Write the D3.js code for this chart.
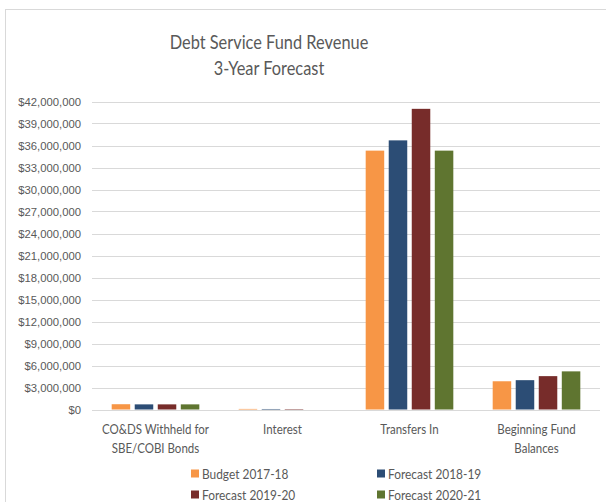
<!DOCTYPE html>
<html>
<head>
<meta charset="utf-8">
<script src="https://cdn.jsdelivr.net/npm/d3@7"></script>
<style>
  html, body { margin: 0; padding: 0; background: #fff; }
  svg { display: block; }
</style>
</head>
<body>
<svg id="chart" width="606" height="502"></svg>
<script>
// Revenue categories (two-line labels) and the four fiscal-year series
const categories = ["CO&DS Withheld for|SBE/COBI Bonds", "Interest", "Transfers In", "Beginning Fund|Balances"];
const seriesNames = ["Budget 2017-18", "Forecast 2018-19", "Forecast 2019-20", "Forecast 2020-21"];
const seriesColors = ["#F79646", "#2C4D75", "#772C2A", "#5F7530"];
const budget1718   = [720000, 80000, 35300000, 3850000];
const forecast1819 = [700000, 70000, 36700000, 4000000];
const forecast1920 = [700000, 60000, 41000000, 4550000];
const forecast2021 = [700000, 0, 35300000, 5200000];
const seriesValues = [budget1718, forecast1819, forecast1920, forecast2021];
const yTicks = d3.range(0, 42000001, 3000000);

const svg = d3.select("#chart");
const grey = "#595959";
const labelFont = "Lato, 'Noto Sans', sans-serif";

// chart frame
svg.append("rect").attr("x", 5.5).attr("y", 9.5).attr("width", 610).attr("height", 510)
  .attr("fill", "#fff").attr("stroke", "#d9d9d9").attr("stroke-width", 1);

// title, narrowed horizontally around its centre
const title = svg.append("text").attr("text-anchor", "middle")
  .attr("transform", "translate(269,0) scale(0.84,1)")
  .attr("font-family", labelFont).attr("font-size", 19.5).attr("fill", grey);
title.append("tspan").attr("x", 0).attr("y", 49.5).text("Debt Service Fund Revenue");
title.append("tspan").attr("x", 0).attr("y", 75.5).text("3-Year Forecast");

const x0 = d3.scaleBand().domain(categories).range([92, 600]).paddingInner(0.31).paddingOuter(0.155);
const x1 = d3.scaleBand().domain(seriesNames).range([0, x0.bandwidth()]).paddingInner(0.196).paddingOuter(0);
const y = d3.scaleLinear().domain([0, 42000000]).range([409.5, 101.5]);

// y axis with gridlines
const yAxis = d3.axisLeft(y).tickValues(yTicks)
  .tickFormat(d => "$" + d3.format(",")(d)).tickSize(0).tickPadding(11);
const gy = svg.append("g").attr("transform", "translate(92,0)").call(yAxis);
gy.select(".domain").remove();
gy.selectAll("text").attr("font-family", "'Liberation Sans', Arial, sans-serif")
  .attr("font-size", 11.3).attr("fill", grey);
svg.append("g").selectAll("line").data(yTicks).join("line")
  .attr("x1", 92).attr("x2", 600)
  .attr("y1", d => Math.round(y(d)) + 0.5).attr("y2", d => Math.round(y(d)) + 0.5)
  .attr("stroke", "#d9d9d9").attr("stroke-width", 1);

// bars
const groups = svg.append("g").selectAll("g").data(categories).join("g")
  .attr("transform", d => `translate(${x0(d)},0)`);
groups.selectAll("rect")
  .data((c, ci) => seriesNames.map((s, si) => ({ s, si, v: seriesValues[si][ci] })))
  .join("rect")
  .attr("x", d => x1(d.s))
  .attr("width", x1.bandwidth())
  .attr("y", d => y(d.v))
  .attr("height", d => y(0) - y(d.v))
  .attr("fill", d => seriesColors[d.si]);

// category labels (condensed text, two lines where needed)
const xAxis = d3.axisBottom(x0).tickSize(0).tickFormat("");
const gx = svg.append("g").attr("transform", "translate(0,409.5)").call(xAxis);
gx.select(".domain").remove();
const catLabels = svg.append("g").selectAll("text").data(categories).join("text")
  .attr("text-anchor", "middle")
  .attr("transform", d => `translate(${x0(d) + x0.bandwidth() / 2},0) scale(0.9,1)`)
  .attr("font-family", labelFont).attr("font-size", 12.8).attr("fill", grey);
catLabels.each(function (d) {
  d.split("|").forEach((ln, i) => {
    d3.select(this).append("tspan").attr("x", 0).attr("y", 434 + i * 19).text(ln);
  });
});

// legend
const legendPos = [[191, 474], [377, 474], [191, 495], [377, 495]];
const leg = svg.append("g").selectAll("g").data(seriesNames).join("g")
  .attr("transform", (d, i) => `translate(${legendPos[i][0]},${legendPos[i][1]})`);
leg.append("rect").attr("x", 0).attr("y", -4.5).attr("width", 8).attr("height", 8)
  .attr("fill", (d, i) => seriesColors[i]);
leg.append("text").attr("transform", "translate(11,5) scale(0.93,1)")
  .attr("font-family", labelFont).attr("font-size", 12.8).attr("fill", grey)
  .text(d => d);
</script>
</body>
</html>
